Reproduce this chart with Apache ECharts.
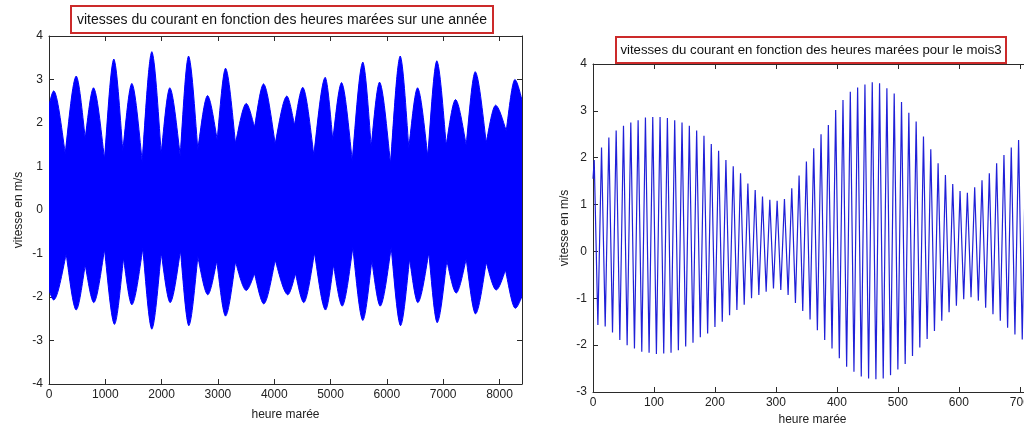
<!DOCTYPE html>
<html>
<head>
<meta charset="utf-8">
<script src="https://cdn.jsdelivr.net/npm/echarts@6/dist/echarts.min.js"></script>
<style>
  html, body { margin: 0; padding: 0; background: #ffffff; overflow: hidden; }
  #c { width: 1070px; height: 426px; }
</style>
</head>
<body>
<div id="c"></div>
<script>
// ---------- Data ----------
// Left panel: envelope of the yearly current-speed signal (m/s) vs tide hours
const yearUpperHours  = [0, 85, 288, 483, 643, 790, 986, 1151, 1311, 1471, 1655, 1826, 1993, 2145, 2330, 2478, 2643, 2815, 2987, 3135, 3312, 3502, 3650, 3810, 4017, 4223, 4360, 4507, 4703, 4905, 5040, 5195, 5385, 5573, 5722, 5870, 6065, 6237, 6390, 6545, 6727, 6887, 7054, 7219, 7409, 7569, 7765, 7930, 8120, 8273, 8400];
const yearUpperValues = [2.41, 2.74, 1.30, 3.08, 1.65, 2.81, 1.17, 3.47, 1.36, 2.91, 1.11, 3.64, 1.30, 2.81, 1.25, 3.54, 1.39, 2.63, 1.61, 3.26, 1.53, 2.45, 1.90, 2.90, 1.52, 2.62, 1.95, 2.82, 1.26, 3.05, 1.61, 2.93, 1.13, 3.40, 1.46, 2.94, 1.06, 3.54, 1.42, 2.81, 1.23, 3.43, 1.49, 2.54, 1.49, 3.18, 1.55, 2.41, 1.82, 3.00, 2.53];
const yearLowerHours  = [0, 85, 305, 483, 643, 796, 986, 1163, 1323, 1471, 1666, 1826, 1993, 2152, 2335, 2483, 2643, 2820, 2980, 3135, 3312, 3502, 3650, 3815, 4017, 4241, 4378, 4525, 4715, 4911, 5053, 5207, 5396, 5573, 5733, 5882, 6077, 6243, 6403, 6550, 6745, 6894, 7065, 7232, 7409, 7575, 7765, 7942, 8107, 8280, 8400];
const yearLowerValues = [-1.84, -2.07, -1.01, -2.30, -1.26, -2.13, -0.90, -2.63, -1.10, -2.18, -0.88, -2.74, -0.98, -2.13, -0.93, -2.66, -1.07, -1.95, -1.17, -2.44, -1.19, -1.85, -1.46, -2.16, -1.15, -1.95, -1.46, -2.13, -0.98, -2.30, -1.26, -2.21, -0.86, -2.54, -1.16, -2.21, -0.86, -2.66, -1.12, -2.13, -0.98, -2.59, -1.16, -1.91, -1.12, -2.39, -1.20, -1.84, -1.38, -2.26, -1.99];

// Right panel: month 3, one maximum and one minimum per tide (12 tide hours)
const monthStartHour = 0;
const monthStartValue = 1.55;
const monthPeakHours  = [2, 14, 26, 38, 50, 62, 74, 86, 98, 110, 122, 134, 146, 158, 170, 182, 194, 206, 218, 230, 242, 254, 266, 278, 290, 302, 314, 326, 338, 350, 362, 374, 386, 398, 410, 422, 434, 446, 458, 470, 482, 494, 506, 518, 530, 542, 554, 566, 578, 590, 602, 614, 626, 638, 650, 662, 674, 686, 698, 710];
const monthPeakValues = [1.95, 2.22, 2.43, 2.58, 2.68, 2.75, 2.80, 2.86, 2.87, 2.87, 2.85, 2.80, 2.75, 2.68, 2.58, 2.47, 2.29, 2.15, 1.95, 1.82, 1.67, 1.45, 1.31, 1.17, 1.10, 1.08, 1.12, 1.35, 1.62, 1.92, 2.20, 2.50, 2.70, 3.02, 3.23, 3.41, 3.50, 3.56, 3.61, 3.59, 3.48, 3.37, 3.19, 2.96, 2.77, 2.45, 2.18, 1.88, 1.63, 1.44, 1.29, 1.25, 1.37, 1.52, 1.67, 1.88, 2.06, 2.22, 2.38, 2.50];
const monthTroughHours  = [8, 20, 32, 44, 56, 68, 80, 92, 104, 116, 128, 140, 152, 164, 176, 188, 200, 212, 224, 236, 248, 260, 272, 284, 296, 308, 320, 332, 344, 356, 368, 380, 392, 404, 416, 428, 440, 452, 464, 476, 488, 500, 512, 524, 536, 548, 560, 572, 584, 596, 608, 620, 632, 644, 656, 668, 680, 692, 704, 716];
const monthTroughValues = [-1.57, -1.60, -1.73, -1.89, -2.00, -2.07, -2.14, -2.16, -2.19, -2.18, -2.16, -2.11, -2.03, -1.95, -1.83, -1.75, -1.61, -1.50, -1.36, -1.25, -1.14, -1.00, -0.93, -0.86, -0.79, -0.82, -0.93, -1.10, -1.27, -1.45, -1.68, -1.89, -2.07, -2.28, -2.46, -2.57, -2.67, -2.71, -2.73, -2.71, -2.64, -2.52, -2.40, -2.23, -2.05, -1.87, -1.70, -1.48, -1.30, -1.16, -1.02, -0.98, -1.05, -1.20, -1.34, -1.48, -1.63, -1.77, -1.88, -1.98];

// Texts
const titleYear  = 'vitesses du courant en fonction des heures marées sur une année';
const titleMonth = 'vitesses du courant en fonction des heures marées pour le mois3';
const xName = 'heure marée';
const yName = 'vitesse en m/s';

// ---------- Build ----------
const monthLine = [[monthStartHour, monthStartValue]];
for (let i = 0; i < monthPeakHours.length; i++) {
  monthLine.push([monthPeakHours[i], monthPeakValues[i]]);
  monthLine.push([monthTroughHours[i], monthTroughValues[i]]);
}

const FONT = '"Liberation Sans", Arial, sans-serif';
const AX = '#2a2a2a';
const plain = function (v) { return String(v); };

function xAxisCfg(grid, min, max, interval, name, nameGap) {
  return [{
    type: 'value', gridIndex: grid, min: min, max: max, interval: interval,
    position: 'bottom',
    name: name, nameLocation: 'middle', nameGap: nameGap,
    nameTextStyle: { fontFamily: FONT, fontSize: 12, color: '#222' },
    axisLine: { show: true, onZero: false, lineStyle: { color: AX, width: 1 } },
    axisTick: { show: true, inside: true, length: 5, lineStyle: { color: AX } },
    axisLabel: { show: true, margin: 5, fontFamily: FONT, fontSize: 12, color: '#222', showMaxLabel: false, formatter: plain },
    splitLine: { show: false }
  }, {
    type: 'value', gridIndex: grid, min: min, max: max, interval: interval,
    position: 'top',
    axisLine: { show: true, onZero: false, lineStyle: { color: AX, width: 1 } },
    axisTick: { show: true, inside: true, length: 5, lineStyle: { color: AX } },
    axisLabel: { show: false },
    splitLine: { show: false }
  }];
}
function yAxisCfg(grid, min, max, interval, name, nameGap) {
  return [{
    type: 'value', gridIndex: grid, min: min, max: max, interval: interval,
    position: 'left',
    name: name, nameLocation: 'middle', nameGap: nameGap, nameRotate: 90,
    nameTextStyle: { fontFamily: FONT, fontSize: 12, color: '#222' },
    axisLine: { show: true, onZero: false, lineStyle: { color: AX, width: 1 } },
    axisTick: { show: true, inside: true, length: 5, lineStyle: { color: AX } },
    axisLabel: { show: true, margin: 6, fontFamily: FONT, fontSize: 12, color: '#222', formatter: plain },
    splitLine: { show: false }
  }, {
    type: 'value', gridIndex: grid, min: min, max: max, interval: interval,
    position: 'right',
    axisLine: { show: true, onZero: false, lineStyle: { color: AX, width: 1 } },
    axisTick: { show: true, inside: true, length: 5, lineStyle: { color: AX } },
    axisLabel: { show: false },
    splitLine: { show: false }
  }];
}

// Envelope path: sharp corners at neap points, rounded tops at spring points
function envelopePath(pts, zeroY, start) {
  let d = start ? 'M' + pts[0][0] + ',' + pts[0][1] : 'L' + pts[0][0] + ',' + pts[0][1];
  for (let i = 1; i < pts.length; i++) {
    const A = pts[i - 1], B = pts[i];
    const dx = B[0] - A[0], dy = B[1] - A[1];
    let c1, c2;
    if (Math.abs(B[1] - zeroY) >= Math.abs(A[1] - zeroY)) {
      c1 = [A[0] + 0.33 * dx, A[1] + 0.42 * dy];
      c2 = [B[0] - 0.32 * dx, B[1] - 0.03 * dy];
    } else {
      c1 = [A[0] + 0.32 * dx, A[1] + 0.03 * dy];
      c2 = [B[0] - 0.33 * dx, B[1] - 0.42 * dy];
    }
    d += ' C' + c1[0] + ',' + c1[1] + ' ' + c2[0] + ',' + c2[1] + ' ' + B[0] + ',' + B[1];
  }
  return d;
}

const chart = echarts.init(document.getElementById('c'), null, { renderer: 'canvas' });
const option = {
  animation: false,
  backgroundColor: '#ffffff',
  grid: [
    { left: 49, top: 36, width: 473, height: 348, outerBoundsMode: 'none', containLabel: false },
    { left: 593, top: 64, width: 439, height: 328, outerBoundsMode: 'none', containLabel: false }
  ],
  xAxis: [].concat(
    xAxisCfg(0, 0, 8400, 1000, xName, 25),
    xAxisCfg(1, 0, 720, 100, xName, 22)
  ),
  yAxis: [].concat(
    yAxisCfg(0, -4, 4, 1, yName, 24),
    yAxisCfg(1, -3, 4, 1, yName, 22)
  ),
  series: [
    {
      type: 'custom',
      xAxisIndex: 0, yAxisIndex: 0,
      coordinateSystem: 'cartesian2d',
      clip: true,
      data: [[0, 0]],
      renderItem: function (params, api) {
        const zeroY = api.coord([0, 0])[1];
        const up = [], lo = [];
        for (let i = 0; i < yearUpperHours.length; i++) {
          up.push(api.coord([yearUpperHours[i], yearUpperValues[i]]));
        }
        for (let i = yearLowerHours.length - 1; i >= 0; i--) {
          lo.push(api.coord([yearLowerHours[i], yearLowerValues[i]]));
        }
        const d = envelopePath(up, zeroY, true) + ' ' + envelopePath(lo, zeroY, false) + ' Z';
        return {
          type: 'path',
          shape: { pathData: d },
          style: { fill: '#0000ff', stroke: '#0000ff', lineWidth: 1 }
        };
      }
    },
    {
      type: 'line',
      xAxisIndex: 2, yAxisIndex: 2,
      data: monthLine,
      showSymbol: false,
      symbol: 'none',
      clip: true,
      lineStyle: { color: '#2020d8', width: 1.2 }
    }
  ],
  graphic: [
    { type: 'rect', z: 100, shape: { x: 71, y: 6, width: 422, height: 27 },
      style: { fill: '#ffffff', stroke: '#cc2a2a', lineWidth: 2 } },
    { type: 'text', z: 101, x: 282, y: 20,
      style: { text: titleYear, font: '14px ' + FONT, fill: '#111', align: 'center', verticalAlign: 'middle' } },
    { type: 'rect', z: 100, shape: { x: 616, y: 37, width: 390, height: 26 },
      style: { fill: '#ffffff', stroke: '#cc2a2a', lineWidth: 2 } },
    { type: 'text', z: 101, x: 811, y: 50,
      style: { text: titleMonth, font: '13.2px ' + FONT, fill: '#111', align: 'center', verticalAlign: 'middle' } }
  ]
};
chart.setOption(option);
</script>
</body>
</html>
